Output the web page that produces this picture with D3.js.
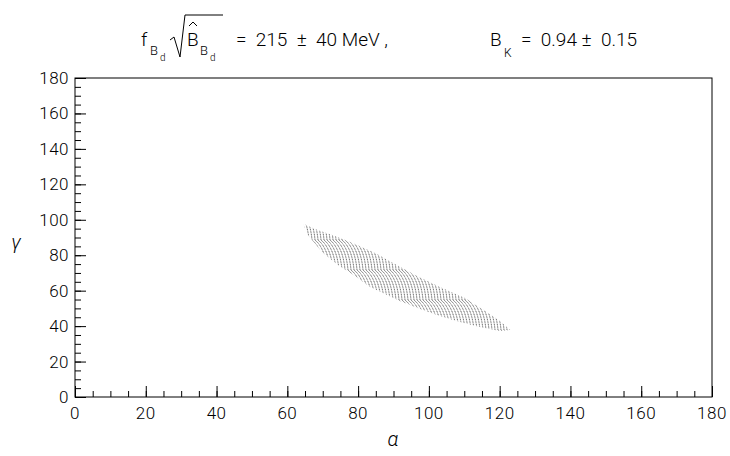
<!DOCTYPE html>
<html>
<head>
<meta charset="utf-8">
<script src="https://cdn.jsdelivr.net/npm/d3@7"></script>
<style>
  body { margin: 0; background: #fff; }
  text { font-family: Roboto, "Liberation Sans", Arial, sans-serif; font-weight: 300; fill: #000; }
</style>
</head>
<body>
<svg id="chart" width="730" height="456"></svg>
<script>
// tick values
const xTicks = [0, 20, 40, 60, 80, 100, 120, 140, 160, 180];
const yTicks = [0, 20, 40, 60, 80, 100, 120, 140, 160, 180];

// allowed region (alpha, gamma)
const upperEdge = [
  [64.7, 97.6], [67.8, 94.8], [73.5, 90.9], [79.1, 86.3], [84.8, 81.3],
  [90.4, 75.1], [96.1, 68.8], [103.1, 62.1], [110.2, 55.9], [115.9, 48.5],
  [120.1, 42.9], [123.0, 37.8]
];
const lowerEdge = [
  [64.7, 96.5], [65.8, 91.4], [69.8, 81.8], [74.3, 74.5], [79.1, 68.3],
  [83.4, 62.1], [87.6, 58.1], [91.8, 54.2], [97.5, 49.7], [103.1, 45.7],
  [108.8, 42.3], [114.4, 39.5], [120.1, 37.2]
];

const svg = d3.select("#chart");
const mLeft = 75, mRight = 712, mTop = 78, mBottom = 397;

const x = d3.scaleLinear().domain([0, 180]).range([mLeft, mRight]);
const y = d3.scaleLinear().domain([0, 180]).range([mBottom, mTop]);

// scan texture: rows of small dotted arcs
const defs = svg.append("defs");
const tileW = 3, tileH = 30;
const pat = defs.append("pattern")
  .attr("id", "arcs")
  .attr("patternUnits", "userSpaceOnUse")
  .attr("width", tileW).attr("height", tileH);
d3.range(-5, 2).forEach(k => {
  pat.append("path")
    .attr("d", `M${k * tileW},0 Q${k * tileW + 10},8 ${k * tileW + 12},${tileH}`)
    .attr("fill", "none")
    .attr("stroke", "#333")
    .attr("stroke-width", 0.9)
    .attr("stroke-dasharray", "1 0.7");
});

const region = upperEdge.concat(lowerEdge.slice().reverse());
const line = d3.line()
  .x(d => x(d[0]))
  .y(d => y(d[1]))
  .curve(d3.curveLinearClosed);

svg.append("path")
  .attr("d", line(region))
  .attr("fill", "url(#arcs)")
  .attr("stroke", "none");

// frame
svg.append("rect")
  .attr("x", mLeft).attr("y", mTop)
  .attr("width", mRight - mLeft).attr("height", mBottom - mTop)
  .attr("fill", "none").attr("stroke", "#000").attr("stroke-width", 1);

// axes, ticks inward
const xAxis = d3.axisTop(x).tickValues(xTicks).tickSize(11).tickFormat("");
const xMinor = d3.axisTop(x).tickValues(d3.range(0, 181, 5)).tickSize(6).tickFormat("");
const yAxis = d3.axisRight(y).tickValues(yTicks).tickSize(11).tickFormat("");
const yMinor = d3.axisRight(y).tickValues(d3.range(0, 181, 5)).tickSize(6).tickFormat("");

[xAxis, xMinor].forEach(a => {
  const g = svg.append("g").attr("transform", `translate(0,${mBottom})`).call(a);
  g.select(".domain").remove();
});
[yAxis, yMinor].forEach(a => {
  const g = svg.append("g").attr("transform", `translate(${mLeft},0)`).call(a);
  g.select(".domain").remove();
});

// tick labels
svg.append("g").selectAll("text")
  .data(xTicks).join("text")
  .attr("x", d => x(d)).attr("y", 419)
  .attr("text-anchor", "middle")
  .attr("font-size", 17)
  .attr("letter-spacing", 0.5)
  .text(d => d);

svg.append("g").selectAll("text")
  .data(yTicks).join("text")
  .attr("x", 69).attr("y", d => y(d) + 6)
  .attr("text-anchor", "end")
  .attr("font-size", 17)
  .attr("letter-spacing", 0.5)
  .text(d => d);

// axis titles
svg.append("text").attr("x", 393).attr("y", 446)
  .attr("text-anchor", "middle").attr("font-size", 20)
  .attr("font-style", "italic").text("α");
svg.append("text").attr("x", 16).attr("y", 249)
  .attr("text-anchor", "middle").attr("font-size", 20)
  .attr("font-style", "italic").text("γ");

// title
const t = svg.append("g").attr("class", "title");
function txt(xp, yp, size, s) {
  t.append("text").attr("x", xp).attr("y", yp)
    .attr("font-size", size).style("white-space", "pre").text(s);
}
txt(141, 46, 19, "f");
txt(150, 55, 13, "B");
txt(160, 61, 10, "d");
t.append("path")
  .attr("d", "M170,40 L174,37 L180,57 L185,15 L223,15")
  .attr("fill", "none").attr("stroke", "#000").attr("stroke-width", 1);
txt(187, 46, 19, "B");
t.append("path")
  .attr("d", "M189,26 L193,22 L197,26")
  .attr("fill", "none").attr("stroke", "#000").attr("stroke-width", 1);
txt(200, 55, 13, "B");
txt(210, 61, 10, "d");
txt(236, 46, 19, "=  215  ±  40 MeV ,");
txt(490, 46, 19, "B");
txt(504, 57, 12, "K");
txt(521, 46, 19, "=  0.94 ±  0.15");
</script>
</body>
</html>
